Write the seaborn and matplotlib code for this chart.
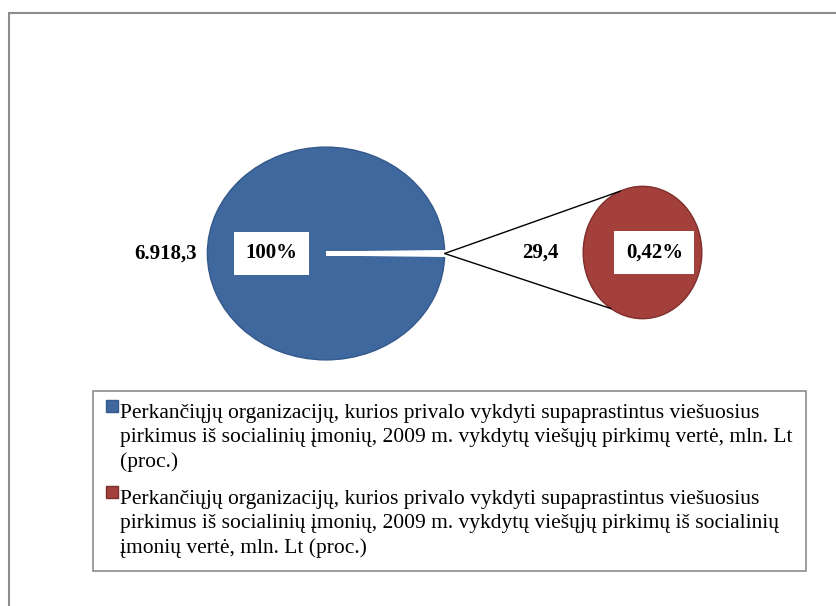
import matplotlib.pyplot as plt
import numpy as np
import seaborn as sns
from matplotlib.legend_handler import HandlerPatch
from matplotlib.patches import ConnectionPatch, Rectangle, Wedge

sns.set_theme(style="white")
plt.rcParams["font.family"] = ["Liberation Serif", "DejaVu Serif"]
plt.rcParams["text.color"] = "black"

# values (mln. Lt)
series_labels = [
    "Perkančiųjų organizacijų, kurios privalo vykdyti supaprastintus viešuosius\n"
    "pirkimus iš socialinių įmonių, 2009 m. vykdytų viešųjų pirkimų vertė, mln. Lt\n"
    "(proc.)",
    "Perkančiųjų organizacijų, kurios privalo vykdyti supaprastintus viešuosius\n"
    "pirkimus iš socialinių įmonių, 2009 m. vykdytų viešųjų pirkimų iš socialinių\n"
    "įmonių vertė, mln. Lt (proc.)",
]
values = [6918.3, 29.4]
value_labels = ["6.918,3", "29,4"]
pct_labels = ["100%", "0,42%"]
colors = ["#3F689E", "#A3403C"]

W, H = 837, 606
LEG_FS = 15.5
LINE_SP = 1.36
fig = plt.figure(figsize=(W / 100, H / 100), dpi=100)


def px_axes(x0, y0, x1, y1):
    # axes placed by pixel box (top-left origin)
    return fig.add_axes([x0 / W, 1 - y1 / H, (x1 - x0) / W, (y1 - y0) / H])


# outer chart border (only left and top edges fall inside the picture)
fig.patches.append(Rectangle((9 / W, -0.1), 1.2, 1 - 13 / H + 0.1, transform=fig.transFigure,
                             fill=False, edgecolor="#8C8C8C", linewidth=1.5))

# main pie
ax1 = px_axes(205, 145, 447, 362)
share = values[1] / values[0]
sizes = [values[1], values[0] - values[1]]
w1, _ = ax1.pie(sizes, colors=["white", colors[0]], startangle=-share * 180,
                counterclock=True, radius=1,
                wedgeprops=dict(edgecolor="#34598A", linewidth=1.0))
w1[0].set_edgecolor("white")
w1[0].set_linewidth(3)
w1[0].set_zorder(3)
ax1.set_aspect("auto")
ax1.set_xlim(-1.02, 1.02)
ax1.set_ylim(-1.02, 1.02)
ax1.axis("off")

# secondary pie
ax2 = px_axes(582, 185, 703, 320)
w2, _ = ax2.pie([values[1]], colors=[colors[1]], radius=1,
                wedgeprops=dict(edgecolor="#7E2E2B", linewidth=1.0))
ax2.set_aspect("auto")
ax2.set_xlim(-1.02, 1.02)
ax2.set_ylim(-1.02, 1.02)
ax2.axis("off")

# connector lines from the small slice to the secondary pie
for ang in (112, 238):
    a = np.deg2rad(ang)
    con = ConnectionPatch(xyA=(1.0, 0.0), coordsA=ax1.transData,
                          xyB=(np.cos(a), np.sin(a)), coordsB=ax2.transData,
                          color="black", linewidth=1.0)
    fig.add_artist(con)

box = dict(boxstyle="square,pad=0.55", facecolor="white", edgecolor="none")
ax1.text(-0.46, 0.0, pct_labels[0], ha="center", va="center", fontsize=15,
         fontweight="bold", bbox=box, zorder=5)
ax1.text(-1.09, 0.0, value_labels[0], ha="right", va="center", fontsize=15,
         fontweight="bold", clip_on=False)
ax2.text(0.2, 0.0, pct_labels[1], ha="center", va="center", fontsize=15,
         fontweight="bold", bbox=box)
ax2.text(-1.72, 0.0, value_labels[1], ha="center", va="center", fontsize=15,
         fontweight="bold", clip_on=False)


def top_line_square(legend, orig_handle, xdescent, ydescent, width, height, fontsize):
    # put the colour square beside the first line of a wrapped label
    s = 0.55 * fontsize
    dy = 1.45 * fontsize
    return Rectangle((-xdescent, -ydescent + dy), s, s)


leg = fig.legend([w1[1], w2[0]], series_labels, loc="upper left",
                 bbox_to_anchor=(93 / W, 1 - 391 / H, 713 / W, 0), mode="expand",
                 fontsize=LEG_FS, frameon=True, fancybox=False, shadow=False,
                 framealpha=1, edgecolor="#8C8C8C", handlelength=0.55,
                 handleheight=0.42, handletextpad=0.1, labelspacing=0.85,
                 borderpad=0.6, borderaxespad=0,
                 handler_map={Wedge: HandlerPatch(patch_func=top_line_square)})
leg.get_frame().set_linewidth(1.2)
for t in leg.get_texts():
    t.set_linespacing(LINE_SP)

fig.savefig("out.png", dpi=100)
